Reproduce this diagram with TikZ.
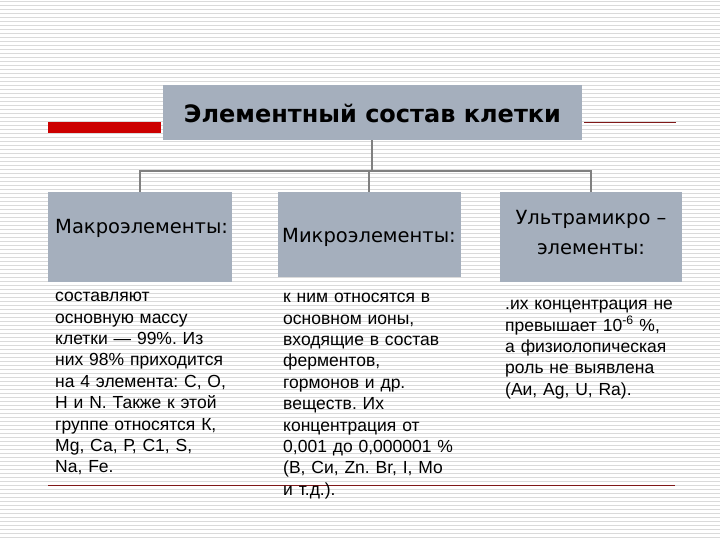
\documentclass[tikz,border=0pt]{standalone}
\usepackage{fontspec}
\setmainfont{Liberation Sans}
\newfontfamily\dv{DejaVu Sans}
\frenchspacing
\definecolor{boxfill}{RGB}{165,175,189}
\definecolor{stripe}{RGB}{218,218,218}
\definecolor{conn}{RGB}{128,128,128}
\definecolor{barred}{RGB}{204,0,0}
\definecolor{darkred}{RGB}{128,24,24}
\tikzset{
  gbox/.style={fill=boxfill, draw=none, inner sep=0pt},
  connline/.style={draw=conn, line width=1.6pt},
  headtxt/.style={font=\dv\fontsize{19.5}{30}\selectfont, inner sep=0pt, text=black},
  bodytxt/.style={font=\frenchspacing\fontsize{17.5}{21.4}\selectfont, inner sep=0pt, anchor=north west, text width=200pt, align=left},
}
\begin{document}
\begin{tikzpicture}[x=1pt,y=-1pt]
\useasboundingbox (0,0) rectangle (720,540);
\fill[white] (0,0) rectangle (720,540);
\foreach \i in {0,...,134} {
  \fill[stripe] (0,4*\i+1) rectangle (720,4*\i+2.3);
}
% decorative lines
\fill[barred] (48,122) rectangle (161,133);
\draw[darkred, line width=1pt] (584,123) -- (676,123);
\draw[darkred, line width=1pt] (48,485) -- (675,485);
% title
\node[gbox, minimum width=419pt, minimum height=55pt] (title) at (372.5,112.5) {};
\node[font=\dv\bfseries\fontsize{24}{28}\selectfont, inner sep=0pt] (titletxt) at (372.5,113) {Элементный состав клетки};
% child boxes
\node[gbox, minimum width=184pt, minimum height=90pt] (macro) at (140,237) {};
\node[gbox, minimum width=183pt, minimum height=85pt] (micro) at (369,234.5) {};
\node[gbox, minimum width=182pt, minimum height=90pt] (ultra) at (591,237) {};
% connectors
\coordinate (j) at (372,171);
\draw[connline] (title.south -| j) -- (j);
\draw[connline] (macro.north) -- (macro.north |- j) -- (ultra.north |- j) -- (ultra.north);
\draw[connline] (micro.north) -- (micro.north |- j);
% headers
\node[headtxt, anchor=west] (macroh) at (55,228) {Макроэлементы:};
\node[headtxt] (microh) at (369,237) {Микроэлементы:};
\node[headtxt, align=center] (ultrah) at (591,233) {Ультрамикро –\\элементы:};
% bodies
\node[bodytxt] (macrob) at (55,286.5) {\strut составляют\\основную массу\\клетки — 99\%. Из\\них 98\% приходится\\на 4 элемента: С, О,\\Н и N. Также к этой\\группе относятся К,\\Mg, Са, Р, С1, S,\\Na, Fe.};
\node[bodytxt] (microb) at (283,287.5) {\strut к ним относятся в\\основном ионы,\\входящие в состав\\ферментов,\\гормонов и др.\\веществ. Их\\концентрация от\\0,001 до 0,000001 \%\\(В, Си, Zn. Br, I, Мо\\и т.д.).};
\node[bodytxt] (ultrab) at (505,294.5) {\strut .их концентрация не\\превышает 10\textsuperscript{-6} \%,\\а физиолопическая\\роль не выявлена\\(Аи, Ag, U, Ra).};
\end{tikzpicture}
\end{document}
